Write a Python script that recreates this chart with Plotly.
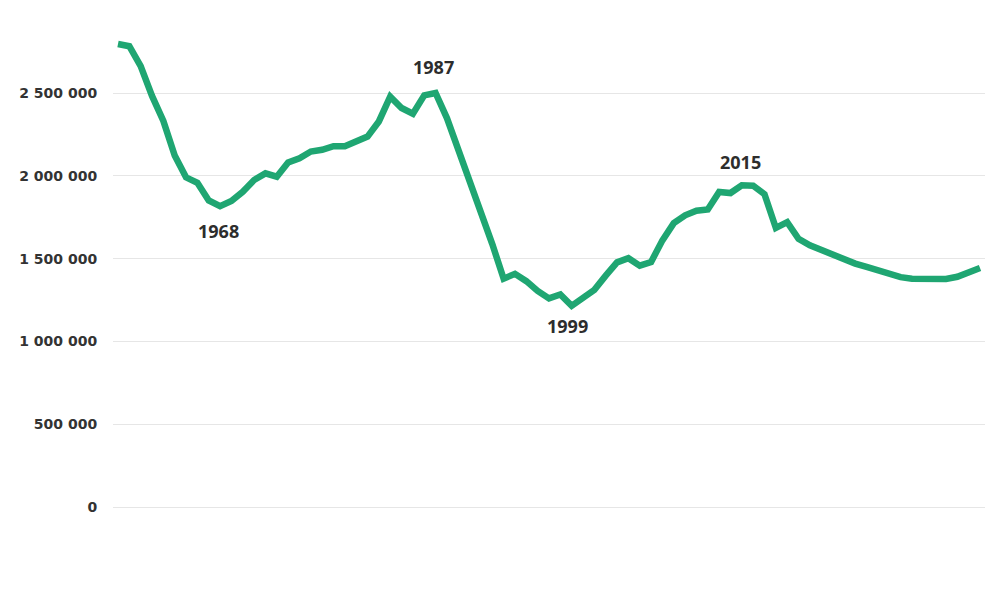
import plotly.graph_objects as go

years = list(range(1959, 2036))
births = [
    2796228, 2782353, 2662135, 2482539, 2331505, 2121994, 1990520, 1957763, 1851041, 1816509,
    1847592, 1903713, 1974637, 2014638, 1994621, 2079812, 2106147, 2146711, 2156724, 2179030,
    2178542, 2202779, 2236608, 2328044, 2478322, 2409614, 2375147, 2485915, 2499974, 2348494,
    2160559, 1988858, 1794626, 1587644, 1378983, 1408159, 1363806, 1304638, 1259943, 1283292,
    1214689, 1266800, 1311604, 1396967, 1477301, 1502477, 1457376, 1479637, 1610122, 1713947,
    1761687, 1788948, 1796629, 1902084, 1895822, 1942683, 1940579, 1888729, 1685000, 1720000,
    1620000, 1580000, 1550000, 1520000, 1495000, 1470000, 1450000, 1430000, 1405000, 1388000,
    1378000, 1375000, 1375000, 1377000, 1390000, 1415000, 1443000,
]
tick_vals = [0, 500000, 1000000, 1500000, 2000000, 2500000]
tick_text = ["0", "500 000", "1 000 000", "1 500 000", "2 000 000", "2 500 000"]

# annotated years: (year, vertical shift, x shift)
marks = [(1968, -25, -2), (1987, 26, -2), (1999, -20, -4), (2015, 24, -13)]

fig = go.Figure()
fig.add_trace(go.Scatter(
    x=years, y=births, mode="lines",
    line=dict(color="#1fa672", width=6.5),
    hoverinfo="skip", showlegend=False,
))

for yr, ys, xs in marks:
    v = births[years.index(yr)]
    fig.add_annotation(
        x=yr, y=v, text=yr, showarrow=False,
        yshift=ys, xshift=xs,
        font=dict(family="Open Sans", size=18, color="#2d2d2d", weight=700),
    )

fig.update_layout(
    width=1005, height=590,
    margin=dict(l=113, r=20, t=20, b=50),
    paper_bgcolor="white", plot_bgcolor="white",
    xaxis=dict(visible=False, range=[1958.56, 2035.44]),
    yaxis=dict(
        range=[-199275, 2940800],
        tickvals=tick_vals, ticktext=tick_text,
        showgrid=True, gridcolor="#e6e6e6", gridwidth=1,
        zeroline=False, showline=False,
        ticks="outside", ticklen=12, tickcolor="rgba(0,0,0,0)",
        tickfont=dict(family="DejaVu Sans", size=14, color="#333333", weight=700),
    ),
)

fig.write_html("out.html")
